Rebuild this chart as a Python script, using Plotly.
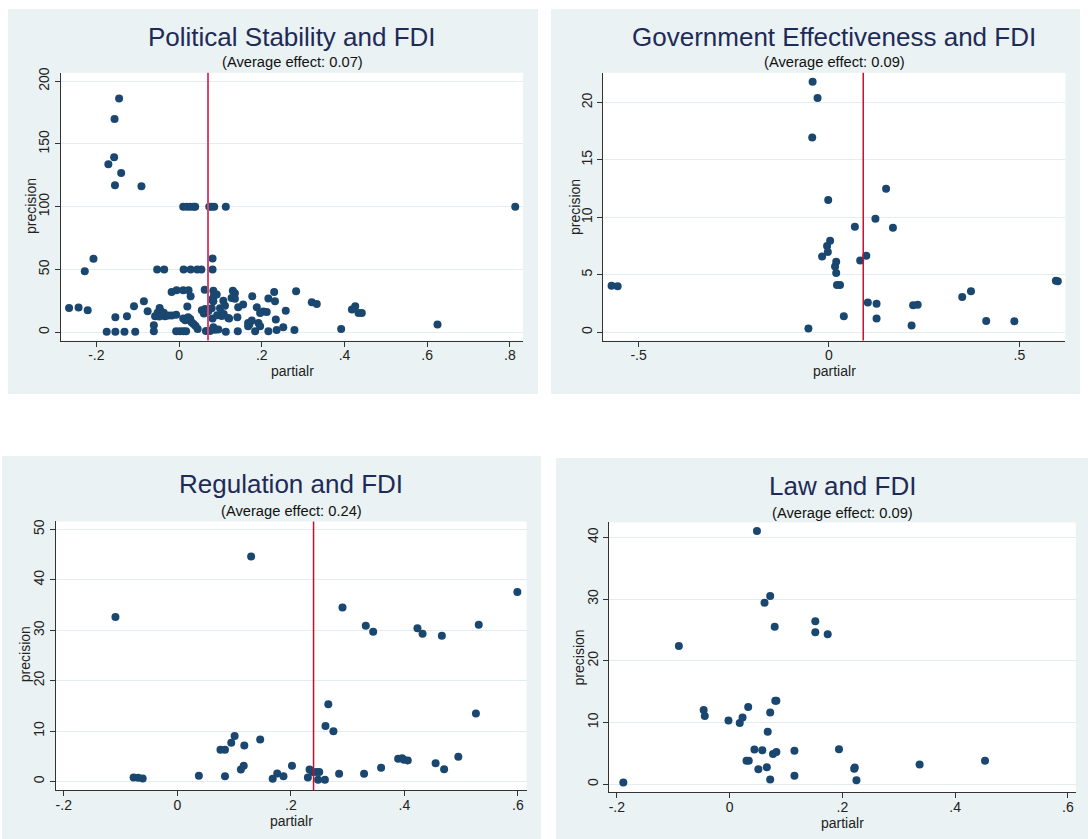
import plotly.graph_objects as go

# ---------------- data ----------------
titles = ["Political Stability and FDI", "Government Effectiveness and FDI",
          "Regulation and FDI", "Law and FDI"]
avg_effects = [0.07, 0.09, 0.24, 0.09]
avg_line_shown = [True, True, True, False]
x_label = "partialr"
y_label = "precision"

ps_x = [-0.145, -0.156, -0.157, -0.171, -0.140, -0.155, -0.091,
        0.010, 0.019, 0.027, 0.035, 0.039, 0.073, 0.079, 0.085, 0.113, 0.813,
        -0.207, 0.081, -0.228,
        -0.053, -0.036, 0.011, 0.028, 0.044, 0.054, 0.081,
        -0.266, -0.243, -0.221,
        -0.175, -0.154, -0.132, -0.106,
        -0.154, -0.126, -0.109, -0.085, -0.076,
        -0.061, -0.061,
        -0.058, -0.052, -0.047, -0.044, -0.040, -0.034, -0.048, -0.037,
        -0.026, -0.018, -0.007,
        -0.018, -0.006,
        -0.007, 0.002,
        0.010, 0.023, 0.028, 0.020,
        0.010, 0.015, 0.022, 0.027, 0.030, 0.035, 0.040, 0.045,
        0.010, 0.017,
        0.062,
        0.055, 0.060, 0.063, 0.067, 0.071, 0.079,
        0.065, 0.075, 0.087,
        0.083, 0.083, 0.081, 0.091, 0.079, 0.084,
        0.099, 0.103, 0.107, 0.111, 0.092, 0.108, 0.095, 0.083,
        0.121, 0.119, 0.113,
        0.130, 0.135, 0.127, 0.135,
        0.143, 0.141, 0.142,
        0.155, 0.177,
        0.188, 0.196, 0.204, 0.212,
        0.167, 0.176, 0.170, 0.192, 0.196, 0.167,
        0.184, 0.216, 0.236, 0.252,
        0.216, 0.230, 0.232,
        0.234, 0.258, 0.279, 0.283,
        0.321, 0.333,
        0.418, 0.426, 0.434, 0.442,
        0.392, 0.625]
ps_y = [186.2, 169.8, 139.3, 133.7, 126.9, 117.0, 116.3,
        100, 100, 100, 100, 100, 100, 100, 100, 100, 100,
        58.6, 58.8, 48.5,
        50, 50, 50, 50, 50, 50, 50,
        19.3, 19.6, 17.5,
        0.3, 0.3, 0.3, 0.3,
        11.9, 12.7, 20.7, 24.6, 16.7,
        5.6, 0.8,
        12.7, 15.5, 19.3, 16.7, 13.5, 12.7, 12.5, 15.5,
        13.3, 13.3, 14.0,
        32.0, 33.4,
        0.8, 0.8,
        33.4, 33.4, 28.6, 20.4,
        11.0, 9.5, 12.0, 10.5, 8.0, 6.5, 5.0, 2.5,
        0.8, 0.8,
        33.9,
        17.5, 15.0, 18.5, 16.0, 17.0, 19.0,
        1.0, 1.0, 2.0,
        24.6, 33.1, 10.9, 30.0, 25.9, 28.6,
        19.0, 13.0, 25.0, 21.0, 13.5, 14.6, 2.1, 4.0,
        10.9, 11.4, 0.3,
        33.0, 31.0, 27.3, 26.7,
        19.8, 11.9, 0.8,
        22.0, 28.6,
        19.8, 15.4, 16.5, 16.2,
        7.4, 9.3, 6.1, 7.4, 4.8, 4.8,
        0.8, 0.8, 1.8, 4.0,
        26.8, 32.0, 24.6,
        10.1, 17.2, 1.8, 32.6,
        23.8, 22.5,
        18.0, 20.7, 15.3, 15.3,
        2.6, 6.1]

ge_x = [-0.571, -0.555, -0.043, -0.030, -0.044, -0.002, 0.003, -0.005, -0.003,
        -0.018, 0.019, 0.016, 0.019, 0.021, 0.029, 0.039, -0.054, 0.068, 0.082,
        0.098, 0.122, 0.150, 0.168, 0.102, 0.125, 0.125, 0.217, 0.221, 0.233,
        0.350, 0.373, 0.413, 0.487, 0.596, 0.601]
ge_y = [4.05, 4.0, 21.8, 20.4, 16.96, 11.5, 7.96, 7.5, 6.98,
        6.6, 6.14, 5.73, 5.15, 4.11, 4.11, 1.39, 0.32, 9.18, 6.25,
        6.66, 9.87, 12.5, 9.09, 2.58, 2.49, 1.19, 0.58, 2.34, 2.4,
        3.07, 3.56, 0.98, 0.96, 4.49, 4.43]

reg_x = [-0.109, -0.077, -0.069, -0.061, 0.130, 0.038, 0.076, 0.084, 0.095,
         0.101, 0.118, 0.146, 0.084, 0.112, 0.117, 0.168, 0.176, 0.187, 0.202,
         0.230, 0.233, 0.238, 0.245, 0.250, 0.248, 0.260, 0.261, 0.266, 0.275,
         0.285, 0.291, 0.329, 0.332, 0.345, 0.359, 0.389, 0.396, 0.399, 0.406,
         0.423, 0.432, 0.455, 0.466, 0.470, 0.495, 0.526, 0.531, 0.599]
reg_y = [32.6, 0.79, 0.73, 0.59, 44.6, 1.12, 6.27, 6.27, 7.7,
         9.04, 7.12, 8.31, 1.06, 2.37, 3.1, 0.53, 1.58, 1.06, 3.1,
         0.79, 2.37, 1.9, 1.9, 1.9, 0.33, 0.33, 11.0, 15.3, 9.96,
         1.52, 34.5, 1.52, 30.9, 29.7, 2.7, 4.49, 4.62, 4.3, 4.16,
         30.4, 29.3, 3.63, 28.9, 2.44, 4.88, 13.5, 31.1, 37.6]

law_x = [-0.1885, -0.090, -0.046, -0.044, -0.002, 0.018, 0.023, 0.033, 0.0485,
         0.062, 0.072, 0.080, 0.072, 0.0676, 0.081, 0.083, 0.044, 0.058, 0.077,
         0.083, 0.115, 0.030, 0.034, 0.051, 0.066, 0.072, 0.115, 0.152, 0.152,
         0.174, 0.194, 0.221, 0.222, 0.225, 0.337, 0.453]
law_y = [0.27, 22.4, 12.0, 11.05, 10.3, 9.9, 10.8, 12.5, 41.0,
         29.4, 30.5, 25.5, 11.6, 8.5, 13.5, 13.5, 5.6, 5.5, 4.9,
         5.2, 5.4, 3.8, 3.8, 2.4, 2.75, 0.75, 1.35, 26.4, 24.6,
         24.3, 5.66, 2.5, 2.7, 0.65, 3.2, 3.8]

xtick_vals = [[-0.2, 0, 0.2, 0.4, 0.6, 0.8], [-0.5, 0, 0.5],
              [-0.2, 0, 0.2, 0.4, 0.6], [-0.2, 0, 0.2, 0.4, 0.6]]
xtick_text = [["-.2", "0", ".2", ".4", ".6", ".8"], ["-.5", "0", ".5"],
              ["-.2", "0", ".2", ".4", ".6"], ["-.2", "0", ".2", ".4", ".6"]]
ytick_vals = [[0, 50, 100, 150, 200], [0, 5, 10, 15, 20],
              [0, 10, 20, 30, 40, 50], [0, 10, 20, 30, 40]]

series = [(ps_x, ps_y), (ge_x, ge_y), (reg_x, reg_y), (law_x, law_y)]

# ---------------- layout geometry (pixels) ----------------
W, H = 1088, 839
panels = [
    dict(bg=(8, 7, 538, 393), plot=(60.8, 71, 523.1, 339.3), xr=(-0.286, 0.832), yr=(-6.6, 206.6),
         tx=292, ty=35, sy=60.5, xly=370, ylx=30.5, yly=205, lc="#d8486e", lw=2),
    dict(bg=(551, 7, 1080, 393), plot=(603.2, 71, 1065.4, 339.3), xr=(-0.593, 0.621), yr=(-0.72, 22.58),
         tx=834.3, ty=35, sy=60.5, xly=370, ylx=574.4, yly=205, lc="#c8102e", lw=1.5),
    dict(bg=(2, 455, 541, 839), plot=(55.6, 520.7, 526.6, 790), xr=(-0.2144, 0.6153), yr=(-1.72, 51.57),
         tx=291, ty=483.5, sy=509.7, xly=821, ylx=25.7, yly=654, lc="#c8102e", lw=1.5),
    dict(bg=(556, 457, 1088, 839), plot=(609.1, 521.7, 1075.8, 792.3), xr=(-0.2137, 0.614), yr=(-1.34, 42.4),
         tx=842.5, ty=485.5, sy=512, xly=823, ylx=579.3, yly=656.7, lc="#c8102e", lw=1.5),
]

FONT = "Liberation Sans, Arial, Helvetica, sans-serif"
MARK = "#1a476f"
BG = "#eaf2f3"
TITLE_C = "#1e2b57"


def px(x):
    return x / W


def py(y):
    # small vertical correction observed in the rendered page
    y = max(0.0, (y - 4.0) / 0.9952)
    return 1 - y / H


fig = go.Figure()
shapes = []
annotations = []
layout = {}

for i, p in enumerate(panels):
    sfx = "" if i == 0 else str(i + 1)
    xn, yn = "x" + sfx, "y" + sfx
    xs, ys = series[i]
    fig.add_trace(go.Scatter(x=xs, y=ys, mode="markers", xaxis=xn, yaxis=yn,
                             marker=dict(color=MARK, size=8, line=dict(width=0)),
                             showlegend=False, hoverinfo="x+y"))
    x0, y0, x1, y1 = p["plot"]
    layout["xaxis" + sfx] = dict(
        domain=[px(x0), px(x1)], anchor=yn, range=list(p["xr"]),
        tickmode="array", tickvals=xtick_vals[i], ticktext=xtick_text[i],
        showgrid=False, zeroline=False, showline=True, linecolor="#333", linewidth=1,
        ticks="outside", ticklen=5, tickcolor="#333", tickwidth=1, ticklabelstandoff=-3,
        tickfont=dict(family=FONT, size=14, color="#222"), fixedrange=True)
    layout["yaxis" + sfx] = dict(
        domain=[py(y1), py(y0)], anchor=xn, range=list(p["yr"]),
        tickmode="array", tickvals=ytick_vals[i], tickangle=-90,
        showgrid=True, gridcolor="#e3ecef", gridwidth=1, zeroline=False,
        showline=True, linecolor="#333", linewidth=1,
        ticks="outside", ticklen=5, tickcolor="#333", tickwidth=1,
        tickfont=dict(family=FONT, size=14, color="#222"), fixedrange=True)
    bx0, by0, bx1, by1 = p["bg"]
    shapes.append(dict(type="rect", xref="paper", yref="paper", x0=px(bx0), x1=px(bx1),
                       y0=py(by1), y1=py(by0), fillcolor=BG, line=dict(width=0), layer="below"))
    shapes.append(dict(type="rect", xref=xn + " domain", yref=yn + " domain", x0=0, x1=1, y0=0, y1=1,
                       fillcolor="white", line=dict(width=0), layer="below"))
    if avg_line_shown[i]:
        shapes.append(dict(type="line", xref=xn, yref=yn + " domain", x0=avg_effects[i], x1=avg_effects[i],
                           y0=0, y1=1, line=dict(color=p["lc"], width=p["lw"]), layer="above"))
    annotations.append(dict(text=titles[i], x=px(p["tx"]), y=py(p["ty"]), xref="paper", yref="paper",
                            xanchor="center", yanchor="middle", showarrow=False,
                            font=dict(family=FONT, size=26, color=TITLE_C)))
    annotations.append(dict(text="(Average effect: %.2f)" % avg_effects[i], x=px(p["tx"]), y=py(p["sy"]),
                            xref="paper", yref="paper", xanchor="center", yanchor="middle", showarrow=False,
                            font=dict(family=FONT, size=14.7, color="#111")))
    annotations.append(dict(text=x_label, x=px(p["tx"]), y=py(p["xly"]), xref="paper", yref="paper",
                            xanchor="center", yanchor="middle", showarrow=False,
                            font=dict(family=FONT, size=14, color="#222")))
    annotations.append(dict(text=y_label, x=px(p["ylx"]), y=py(p["yly"]), xref="paper", yref="paper",
                            xanchor="center", yanchor="middle", showarrow=False, textangle=-90,
                            font=dict(family=FONT, size=14, color="#222")))

fig.update_layout(width=W, height=H, margin=dict(l=0, r=0, t=0, b=0, pad=0),
                  paper_bgcolor="white", plot_bgcolor="white",
                  shapes=shapes, annotations=annotations, showlegend=False,
                  font=dict(family=FONT), **layout)

fig.write_html("out.html", include_plotlyjs=True,
               config={"displayModeBar": False},
               post_script="document.body.style.margin='0';document.body.style.overflow='hidden';")
